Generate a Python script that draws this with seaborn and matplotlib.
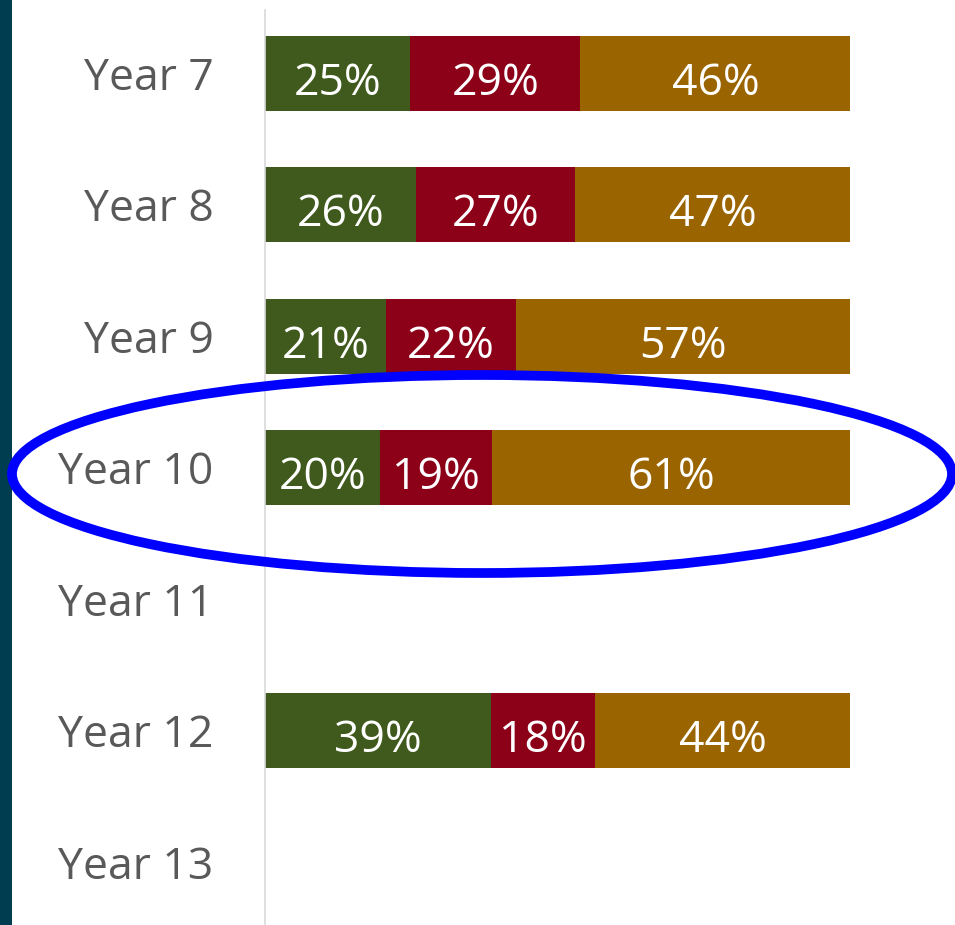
import matplotlib
matplotlib.use("Agg")
import matplotlib.pyplot as plt
from matplotlib.patches import Ellipse, Rectangle
import numpy as np
import pandas as pd
import seaborn as sns

years = ["Year 7", "Year 8", "Year 9", "Year 10", "Year 11", "Year 12", "Year 13"]
green_vals = [24.8, 25.8, 20.7, 19.7, np.nan, 38.6, np.nan]
red_vals = [29.1, 27.2, 22.2, 19.1, np.nan, 17.8, np.nan]
orange_vals = [46.2, 47.0, 57.1, 61.2, np.nan, 43.6, np.nan]
green_labels = ["25%", "26%", "21%", "20%", "", "39%", ""]
red_labels = ["29%", "27%", "22%", "19%", "", "18%", ""]
orange_labels = ["46%", "47%", "57%", "61%", "", "44%", ""]

GREEN = "#3F5A1C"
RED = "#8C0018"
ORANGE = "#9A6400"

sns.set_theme(style="white")
plt.rcParams["font.family"] = ["Open Sans", "DejaVu Sans"]

df = pd.DataFrame({"year": years, "g": green_vals, "r": red_vals, "o": orange_vals})
df["gr"] = df["g"] + df["r"]
df["gro"] = df["gr"] + df["o"]

fig = plt.figure(figsize=(9.55, 9.25), dpi=100)
ax = fig.add_axes([265 / 955, 0, (850 - 265) / 955, 915 / 925])

bw = 0.57
sns.barplot(data=df, y="year", x="gro", order=years, color=ORANGE, width=bw,
            orient="h", ax=ax, saturation=1, linewidth=0)
sns.barplot(data=df, y="year", x="gr", order=years, color=RED, width=bw,
            orient="h", ax=ax, saturation=1, linewidth=0)
sns.barplot(data=df, y="year", x="g", order=years, color=GREEN, width=bw,
            orient="h", ax=ax, saturation=1, linewidth=0)

fs = 32
dy = 0.165
for i in range(len(years)):
    g, r, o = green_vals[i], red_vals[i], orange_vals[i]
    if np.isnan(g):
        continue
    ax.text(g / 2, i + dy, green_labels[i], ha="center", va="baseline", color="white", fontsize=fs)
    ax.text(g + r / 2, i + dy, red_labels[i], ha="center", va="baseline", color="white", fontsize=fs)
    ax.text(g + r + o / 2, i + dy, orange_labels[i], ha="center", va="baseline", color="white", fontsize=fs)

ax.set_xlim(0, 100)
ax.set_ylim(6.48, -0.48)
ax.set_xlabel("")
ax.set_ylabel("")
ax.set_xticks([])
ax.tick_params(axis="y", length=0, pad=37, labelsize=fs, labelcolor="#595959")
for s in ["top", "right", "bottom"]:
    ax.spines[s].set_visible(False)
ax.spines["left"].set_color("#D9D9D9")
ax.spines["left"].set_linewidth(1.2)

# dark strip on the left edge
fig.patches.append(Rectangle((0, 0), 12 / 955, 1, transform=fig.transFigure,
                             facecolor="#003D50", edgecolor="none", zorder=0))

# highlight ellipse
fig.patches.append(Ellipse((482 / 955, 1 - 474 / 925), 940 / 955, 198 / 925,
                           transform=fig.transFigure, fill=False,
                           edgecolor="#0000FF", linewidth=7, zorder=10))

fig.savefig("out.png", dpi=100)
